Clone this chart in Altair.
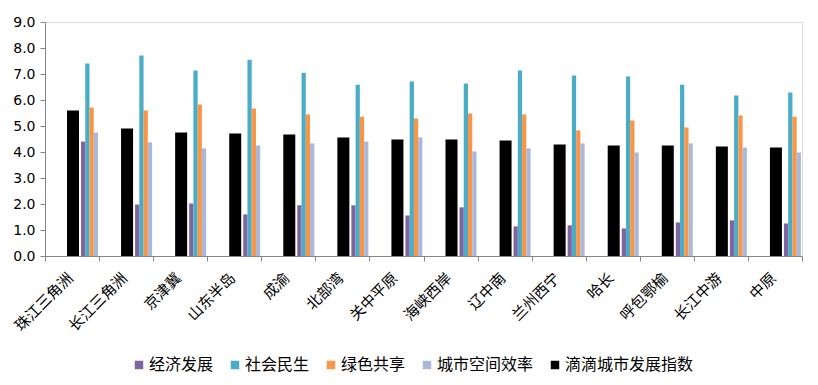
import altair as alt
import pandas as pd

regions = ["珠江三角洲", "长江三角洲", "京津冀", "山东半岛", "成渝", "北部湾", "关中平原",
           "海峡西岸", "辽中南", "兰州西宁", "哈长", "呼包鄂榆", "长江中游", "中原"]

economy = [4.40, 1.98, 2.02, 1.60, 1.95, 1.95, 1.56, 1.87, 1.14, 1.18, 1.06, 1.29, 1.37, 1.25]
livelihood = [7.40, 7.71, 7.13, 7.55, 7.05, 6.59, 6.71, 6.63, 7.13, 6.94, 6.90, 6.59, 6.17, 6.29]
green = [5.71, 5.60, 5.83, 5.67, 5.44, 5.36, 5.29, 5.48, 5.44, 4.83, 5.21, 4.94, 5.40, 5.36]
efficiency = [4.75, 4.37, 4.14, 4.25, 4.33, 4.40, 4.56, 4.02, 4.14, 4.33, 3.98, 4.33, 4.17, 3.98]
didi_index = [5.60, 4.90, 4.75, 4.71, 4.67, 4.56, 4.48, 4.48, 4.44, 4.29, 4.25, 4.25, 4.21, 4.17]

series_names = ["经济发展", "社会民生", "绿色共享", "城市空间效率", "滴滴城市发展指数"]
series_colors = ["#8064A2", "#4BACC6", "#F79646", "#AAB8D9", "#000000"]
y_ticks = [0, 1, 2, 3, 4, 5, 6, 7, 8, 9]

rows = []
for name, vals in zip(series_names, [economy, livelihood, green, efficiency, didi_index]):
    for r, v in zip(regions, vals):
        rows.append({"region": r, "series": name, "value": v})
df = pd.DataFrame(rows)

W, H = 757, 234

x_enc = alt.X("region:N", sort=regions,
              scale=alt.Scale(paddingInner=0, paddingOuter=0),
              axis=alt.Axis(title=None, labelAngle=-45, labelFontSize=15,
                            labelFont="Noto Sans CJK SC", labelColor="#000000",
                            labelPadding=14, labelOffset=-2, tickBand="extent", tickSize=5,
                            tickColor="#868686", domainColor="#868686",
                            labelAlign="right", labelBaseline="middle"))
y_enc = alt.Y("value:Q",
              scale=alt.Scale(domain=[0, 9], nice=False),
              axis=alt.Axis(title=None, values=y_ticks, format=".1f", grid=False,
                            labelFontSize=14, labelFont="DejaVu Sans", labelColor="#000000",
                            tickSize=5, tickColor="#868686", domainColor="#868686",
                            labelPadding=5))
color_enc = alt.Color("series:N",
                      scale=alt.Scale(domain=series_names, range=series_colors),
                      legend=alt.Legend(title=None, orient="none", direction="horizontal",
                                        legendX=86, legendY=335, symbolType="square",
                                        symbolSize=72, symbolStrokeWidth=0,
                                        labelFontSize=16, labelFont="Noto Sans CJK SC",
                                        labelColor="#000000", labelOffset=2,
                                        columnPadding=13, padding=0))

base = alt.Chart(df)

black = base.transform_filter(alt.datum.series == "滴滴城市发展指数").mark_bar().encode(
    x=x_enc, y=y_enc, color=color_enc,
    xOffset=alt.XOffset("series:N",
                        scale=alt.Scale(domain=["滴滴城市发展指数"], paddingInner=0,
                                        paddingOuter=0, range=[22, 34])),
)

colored = base.transform_filter(alt.datum.series != "滴滴城市发展指数").mark_bar().encode(
    x=x_enc, y=y_enc, color=color_enc,
    xOffset=alt.XOffset("series:N",
                        scale=alt.Scale(domain=series_names[:4], paddingInner=0,
                                        paddingOuter=0, range=[36, 53])),
)

chart = alt.layer(black, colored).resolve_scale(xOffset="independent").properties(
    width=W, height=H,
    autosize=alt.AutoSizeParams(type="none"),
    padding={"left": 37, "top": 14, "right": 5, "bottom": 120},
).configure_view(stroke=None).configure(background="white")

chart.save("out.html", embed_options={"renderer": "svg", "actions": False})
